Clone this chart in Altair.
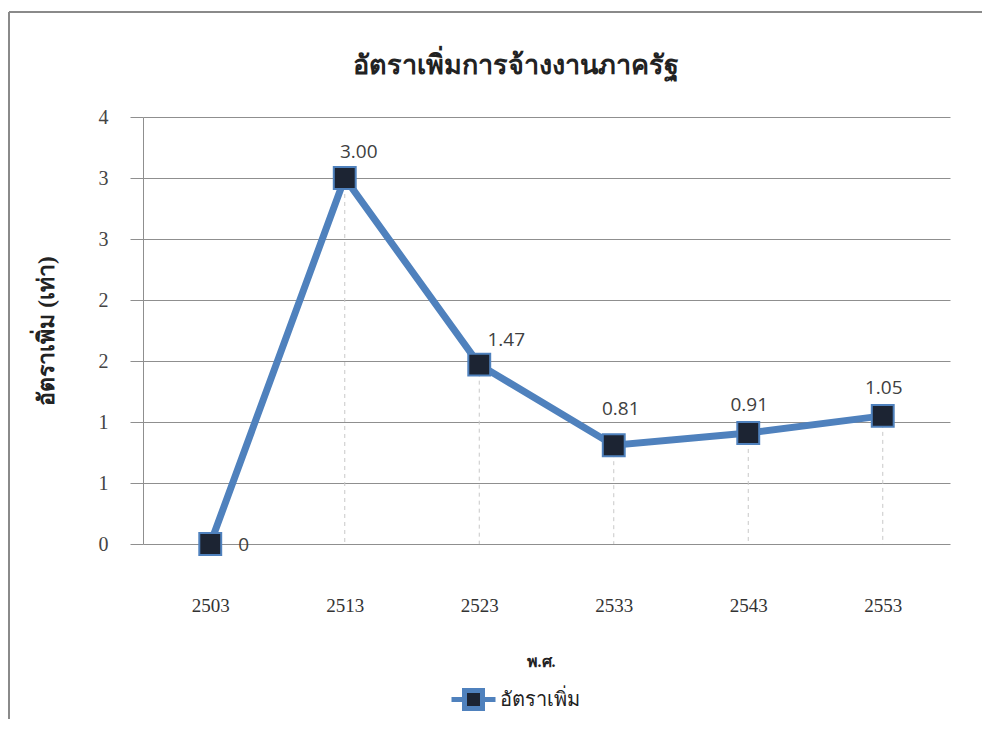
import altair as alt
import pandas as pd

years = ["2503", "2513", "2523", "2533", "2543", "2553"]
rates = [0.0, 3.00, 1.47, 0.81, 0.91, 1.05]
label_text = ["0", "3.00", "1.47", "0.81", "0.91", "1.05"]
series_name = "อัตราเพิ่ม"

df = pd.DataFrame({"year": years, "rate": rates, "label": label_text,
                   "series": [series_name] * len(years)})

BLUE = "#4F81BD"
SERIF = "Liberation Serif"

W, H = 807, 427

x_enc = alt.X("year:O", title="พ.ศ.",
              scale=alt.Scale(type="point", padding=0.5),
              axis=alt.Axis(labelAngle=0, domain=False, ticks=False, grid=False,
                            labelPadding=52, labelFont=SERIF, labelFontSize=19,
                            labelColor="#333333", titleFont=SERIF, titleFontSize=16,
                            titleFontWeight="bold", titleColor="#222222",
                            titlePadding=38, titleX=W / 2 - 6))
y_enc = alt.Y("rate:Q", title="อัตราเพิ่ม (เท่า)",
              scale=alt.Scale(domain=[0, 3.5], nice=False, zero=True),
              axis=alt.Axis(values=[0, 0.5, 1, 1.5, 2, 2.5, 3, 3.5], format=".0f",
                            grid=True, gridColor="#8f8f8f", gridWidth=1,
                            domain=True, domainColor="#8f8f8f",
                            ticks=True, tickSize=13, tickColor="#8f8f8f",
                            labelPadding=22, labelFont=SERIF, labelFontSize=20,
                            labelColor="#444444",
                            titleFont=SERIF, titleFontSize=23, titleFontWeight="bold",
                            titleColor="#222222", titlePadding=40))

base = alt.Chart(df)

drop = base.mark_rule(color="#c8c8c8", strokeDash=[4, 4], strokeWidth=1).encode(
    x=x_enc, y="rate:Q", y2=alt.datum(0))

line = base.mark_line(strokeWidth=7).encode(
    x=x_enc, y=y_enc,
    color=alt.Color("series:N", scale=alt.Scale(range=[BLUE]),
                    legend=alt.Legend(title=None, orient="none", legendX=308, legendY=560,
                                      symbolType="M-1.1,0H-0.45M0.45,0H1.1M-0.45,-0.45H0.45V0.45H-0.45Z",
                                      symbolFillColor="#1c2433", symbolStrokeColor=BLUE,
                                      symbolStrokeWidth=5, symbolSize=1600,
                                      labelFont=SERIF, labelFontSize=20,
                                      labelColor="#222222", labelOffset=4)))

points = base.mark_point(shape="square", size=480, filled=True, fill="#1c2433",
                         stroke=BLUE, strokeWidth=2, opacity=1).encode(
    x=x_enc, y="rate:Q")

txt_style = dict(font="Open Sans", fontSize=19, color="#404040")

def labels(sel, dx, dy, align="center"):
    return base.transform_filter(
        alt.FieldOneOfPredicate(field="year", oneOf=sel)
    ).mark_text(dx=dx, dy=dy, align=align, baseline="middle", **txt_style).encode(
        x=x_enc, y="rate:Q", text="label:N")

lab_zero = labels(["2503"], 28, 1, "left")
lab_300 = labels(["2513"], 14, -26)
lab_147 = labels(["2523"], 27, -25)
lab_081 = labels(["2533"], 7, -36)
lab_rest = labels(["2543", "2553"], 1, -28)

frame_left = base.mark_rule(color="#8a8a8a", strokeWidth=2).encode(
    x=alt.value(-134), y=alt.value(-105), y2=alt.value(H + 200))
frame_top = base.mark_rule(color="#8a8a8a", strokeWidth=2).encode(
    x=alt.value(-134), x2=alt.value(W + 60), y=alt.value(-105))

chart = alt.layer(
    frame_left, frame_top, drop, line, points,
    lab_zero, lab_300, lab_147, lab_081, lab_rest
).properties(
    width=W, height=H,
    title=alt.TitleParams("อัตราเพิ่มการจ้างงานภาครัฐ", font=SERIF, fontSize=27,
                          fontWeight="bold", color="#222222", anchor="middle",
                          frame="group", dx=-31, offset=-69),
    autosize=alt.AutoSizeParams(type="none"),
    padding={"left": 135, "top": 109, "right": 32, "bottom": 175},
    background="white",
).configure_view(stroke=None)

chart.save("out.html", embed_options={"renderer": "svg", "actions": False})
